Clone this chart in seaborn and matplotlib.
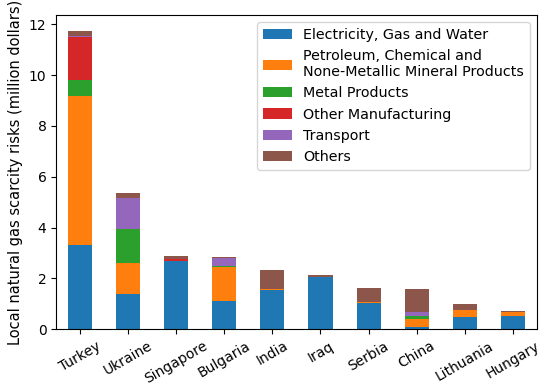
import numpy as np
import pandas as pd
import seaborn as sns
import matplotlib
matplotlib.use("Agg")
import matplotlib.pyplot as plt

countries = ["Turkey", "Ukraine", "Singapore", "Bulgaria", "India",
             "Iraq", "Serbia", "China", "Lithuania", "Hungary"]
sectors = ["Electricity, Gas and Water",
           "Petroleum, Chemical and\nNone-Metallic Mineral Products",
           "Metal Products", "Other Manufacturing", "Transport", "Others"]

electricity = [3.32, 1.38, 2.70, 1.09, 1.54, 2.04, 1.03, 0.08, 0.49, 0.53]
petroleum = [5.87, 1.23, 0.00, 1.34, 0.02, 0.01, 0.03, 0.30, 0.25, 0.13]
metal = [0.60, 1.32, 0.00, 0.04, 0.01, 0.00, 0.02, 0.12, 0.00, 0.00]
other_manuf = [1.72, 0.00, 0.07, 0.00, 0.01, 0.02, 0.00, 0.00, 0.00, 0.01]
transport = [0.04, 1.23, 0.00, 0.33, 0.01, 0.00, 0.00, 0.16, 0.00, 0.00]
others = [0.17, 0.21, 0.12, 0.04, 0.74, 0.07, 0.54, 0.92, 0.25, 0.04]

series = [electricity, petroleum, metal, other_manuf, transport, others]
colors = ["#1f77b4", "#ff7f0e", "#2ca02c", "#d62728", "#9467bd", "#8c564b"]

plt.rcParams["font.family"] = ["DejaVu Sans"]
plt.rcParams["font.size"] = 10

fig, ax = plt.subplots(figsize=(5.5, 3.84), dpi=100)
fig.subplots_adjust(left=0.102, right=0.976, bottom=0.143, top=0.961)

# stack: draw cumulative totals from the top down so each layer shows
cum = np.cumsum(np.array(series), axis=0)
for i in range(len(series) - 1, -1, -1):
    df = pd.DataFrame({"Country": countries, "Value": cum[i]})
    sns.barplot(data=df, x="Country", y="Value", color=colors[i],
                saturation=1, width=0.5, linewidth=0, ax=ax,
                label=sectors[i])

handles, labels = ax.get_legend_handles_labels()
ax.legend(handles[::-1], labels[::-1], loc="upper right", fontsize=10.3)

ax.set_xlabel("")
ax.set_ylabel("Local natural gas scarcity risks (million dollars)", fontsize=10.5)
ax.set_ylim(0, 12.37)
ax.set_yticks([0, 2, 4, 6, 8, 10, 12])
ax.tick_params(axis="x", labelrotation=30)
for lab in ax.get_xticklabels():
    lab.set_ha("center")
fig.savefig("out.png", dpi=100)
